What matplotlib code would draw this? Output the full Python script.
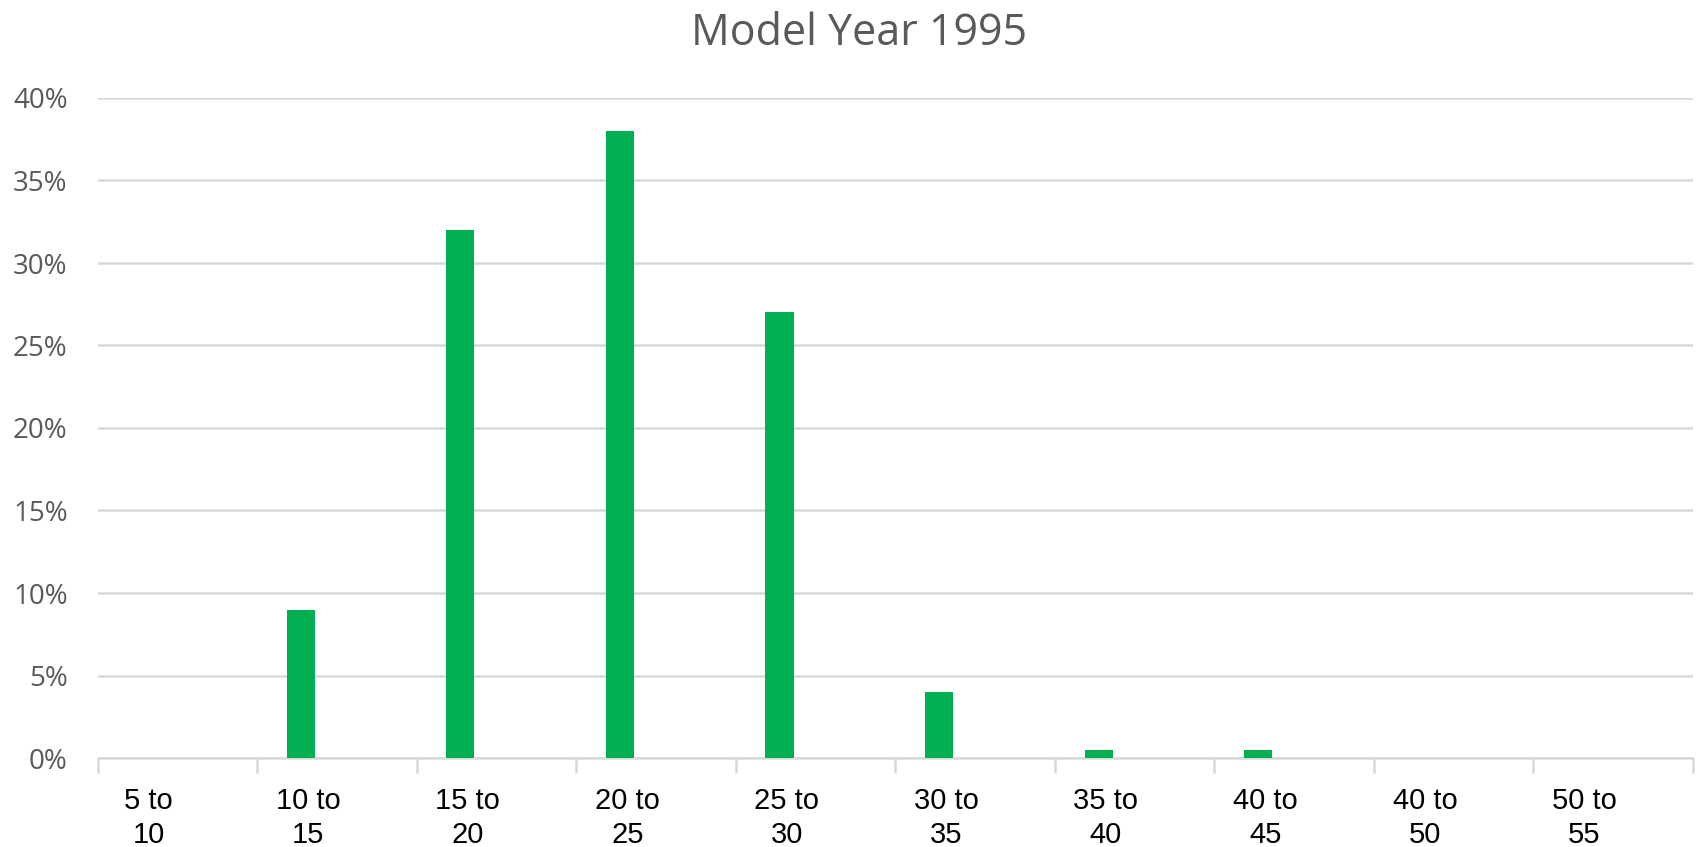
import matplotlib.pyplot as plt
from matplotlib.ticker import FuncFormatter, FixedLocator
import numpy as np

title = "Model Year 1995"
categories = ["5 to\n10", "10 to\n15", "15 to\n20", "20 to\n25", "25 to\n30",
              "30 to\n35", "35 to\n40", "40 to\n45", "40 to\n50", "50 to\n55"]
shares = [0.0, 9.0, 32.0, 38.0, 27.0, 4.0, 0.5, 0.5, 0.0, 0.0]
y_ticks = [0, 5, 10, 15, 20, 25, 30, 35, 40]

fig = plt.figure(figsize=(16.98, 8.47), dpi=100)
ax = fig.add_axes([97.6 / 1698, 1 - 758 / 847, (1693 - 97.6) / 1698, (758 - 98) / 847])

x = np.arange(len(categories))
# bars sit left of the category centre, like the second slot of a two-series excel chart
ax.bar(x - 0.226, shares, width=0.176, color="#00B050", zorder=3)

ax.set_xlim(-0.5, len(categories) - 0.5)
ax.set_ylim(0, 40)
ax.set_yticks(y_ticks)
ax.yaxis.set_major_formatter(FuncFormatter(lambda v, p: f"{v:.0f}%"))
ax.grid(axis="y", color="#d9d9d9", linewidth=1.8, zorder=0)
ax.tick_params(axis="y", length=0, pad=21.5, labelsize=20, labelcolor="#595959")
for lab in ax.get_yticklabels():
    lab.set_fontfamily("Open Sans")

ax.set_xticks(x - 0.18)
ax.set_xticklabels(categories, fontfamily="Liberation Sans", fontsize=21,
                   linespacing=1.28)
ax.tick_params(axis="x", which="major", length=0, pad=21, labelcolor="black")
ax.xaxis.set_minor_locator(FixedLocator(np.arange(-0.5, len(categories), 1.0)))
ax.tick_params(axis="x", which="minor", length=11, width=1.8, color="#d9d9d9")

for side in ["top", "right", "left"]:
    ax.spines[side].set_visible(False)
ax.spines["bottom"].set_color("#d9d9d9")
ax.spines["bottom"].set_linewidth(1.8)

fig.text(859 / 1698, 1 - 45 / 847, title, ha="center", va="baseline",
         fontsize=31, color="#595959", fontfamily="Open Sans")

fig.savefig("out.png", dpi=100)
